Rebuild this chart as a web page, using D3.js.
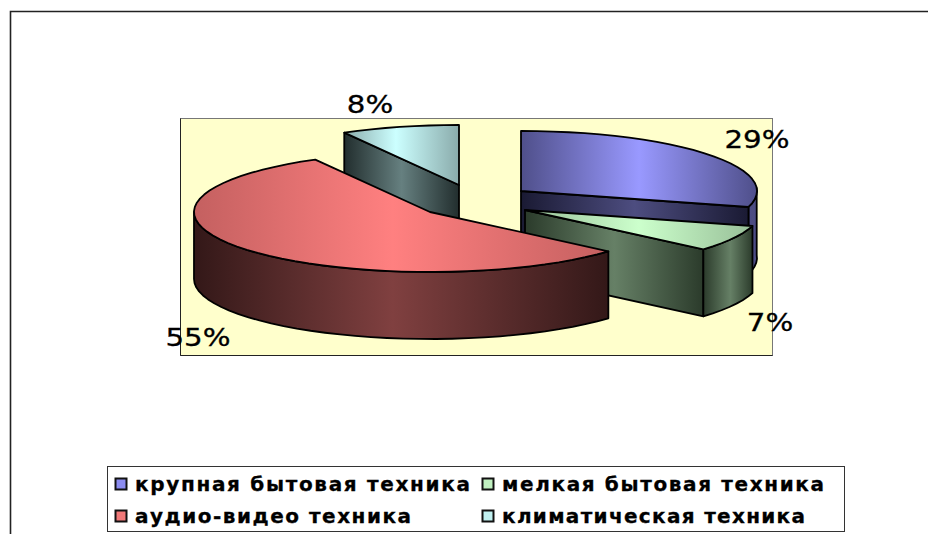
<!DOCTYPE html>
<html>
<head>
<meta charset="utf-8">
<script src="https://cdn.jsdelivr.net/npm/d3@7"></script>
<style>
  html, body { margin: 0; padding: 0; background: #fff; overflow: hidden; }
  svg { display: block; }
  text { font-family: "DejaVu Sans", sans-serif; fill: #000; }
</style>
</head>
<body>
<div id="chart"></div>
<script>
// values, in legend order
const categories = ["крупная бытовая техника", "мелкая бытовая техника", "аудио-видео техника", "климатическая техника"];
const shares = [29, 7, 55, 8];
const shareLabels = ["29%", "7%", "55%", "8%"];

// slice colours: bright top / top edge / mid side / dark side / legend
const topColors = ["#9999ff", "#ccffcc", "#ff8080", "#ccffff"];
const topEdge = ["#4f4f8a", "#98bf98", "#c46060", "#8aabab"];
const wallMid = ["#4d4d80", "#668066", "#804040", "#668080"];
const wallDark = ["#1a1a33", "#2b3b2b", "#331818", "#222e2e"];
const legendColors = ["#8c8cf0", "#c0f0c0", "#f07878", "#c0f0f0"];

const width = 928;
const height = 534;
const rx = 236, ry = 60, depth = 67;

// exploded centre of each slice, where its label sits, legend text widths
const centers = [[521, 191], [525, 210], [430, 212], [459, 185]];
const labelPos = [[757, 148], [770, 331], [198, 346], [370, 113]];
const legendWidths = [335, 322, 276, 303];

const svg = d3.select("#chart").append("svg")
    .attr("width", width)
    .attr("height", height);

const defs = svg.append("defs");

function hGradient(id, x1, x2, edge, mid, midAt) {
    const g = defs.append("linearGradient")
        .attr("id", id)
        .attr("gradientUnits", "userSpaceOnUse")
        .attr("x1", x1).attr("x2", x2)
        .attr("y1", 0).attr("y2", 0);
    g.append("stop").attr("offset", 0).attr("stop-color", edge);
    g.append("stop").attr("offset", midAt).attr("stop-color", mid);
    g.append("stop").attr("offset", 1).attr("stop-color", edge);
    return `url(#${id})`;
}

// outer frame, no right side and cut off at the bottom of the picture
svg.append("path")
    .attr("d", `M10.5 ${height} V11.5 H${width}`)
    .attr("fill", "none")
    .attr("stroke", "#222")
    .attr("stroke-width", 1.6);

// plot area
svg.append("rect")
    .attr("x", 180.5).attr("y", 118.5)
    .attr("width", 592).attr("height", 237)
    .attr("fill", "#ffffcc")
    .attr("stroke", "#777");
svg.append("path")
    .attr("d", "M180.5 118.5 V355.5 H772.5")
    .attr("fill", "none")
    .attr("stroke", "#222");

const pie = d3.pie().sort(null)(shares);

const line = d3.line();

function ellipsePt(i, a, dy) {
    const c = centers[i];
    return [c[0] + rx * Math.sin(a), c[1] - ry * Math.cos(a) + (dy || 0)];
}

// coarse steps on purpose, the original rim is a slightly wobbly polyline
function rimPts(i, a0, a1, dy) {
    const n = Math.max(2, Math.ceil(Math.abs(a1 - a0) / 0.07));
    return d3.range(n + 1).map(k => ellipsePt(i, a0 + (a1 - a0) * k / n, dy));
}

function draw(d, fill) {
    return svg.append("path")
        .attr("d", d)
        .attr("fill", fill)
        .attr("stroke", "#000")
        .attr("stroke-width", 1.8)
        .attr("stroke-linejoin", "round");
}

// flat cut face running from the centre out to the rim at angle a
function cutFace(i, a, id) {
    const c = centers[i];
    const p = ellipsePt(i, a);
    const pts = [c, p, [p[0], p[1] + depth], [c[0], c[1] + depth]];
    const x0 = Math.min(c[0], p[0]), x1 = Math.max(c[0], p[0]);
    const fill = hGradient(id, x0, x1, wallDark[i], wallMid[i], 0.5);
    draw(line(pts) + "Z", fill);
}

// rim wall between two angles
function rimWall(i, a0, a1, id, midAt, edge) {
    const top = rimPts(i, a0, a1);
    const bottom = rimPts(i, a1, a0, depth);
    const xs = top.map(p => p[0]);
    const fill = hGradient(id, d3.min(xs), d3.max(xs), edge || wallDark[i], wallMid[i], midAt);
    draw(line(top.concat(bottom)) + "Z", fill);
}

function topFace(i, d, id, midAt) {
    const c = centers[i];
    const pts = [c].concat(rimPts(i, d.startAngle, d.endAngle));
    const xs = pts.map(p => p[0]);
    const fill = hGradient(id, d3.min(xs), d3.max(xs), topEdge[i], topColors[i], midAt);
    draw(line(pts) + "Z", fill);
}

// back to front: climate, large appliances, small appliances, audio-video
cutFace(3, pie[3].startAngle, "w3");
topFace(3, pie[3], "t3", 0.45);

rimWall(0, Math.PI / 2 - 0.05, pie[0].endAngle, "r0", 0.5, "#4a4a88");
cutFace(0, pie[0].endAngle, "w0");
topFace(0, pie[0], "t0", 0.5);

cutFace(1, pie[1].endAngle, "w1");
rimWall(1, pie[1].startAngle, pie[1].endAngle, "r1", 0.55);
topFace(1, pie[1], "t1", 0.5);

rimWall(2, pie[2].startAngle, Math.PI * 1.5, "r2", 0.48);
topFace(2, pie[2], "t2", 0.48);

// percent labels, the original font runs wider than DejaVu
svg.selectAll("text.pct")
    .data(shareLabels)
    .enter()
    .append("text")
    .attr("class", "pct")
    .attr("transform", (d, i) => `translate(${labelPos[i][0]},${labelPos[i][1]}) scale(1.22,1)`)
    .attr("text-anchor", "middle")
    .style("font-size", "24px")
    .style("stroke", "#000")
    .style("stroke-width", 0.3)
    .text(d => d);

// legend
svg.append("rect")
    .attr("x", 107.5).attr("y", 466.5)
    .attr("width", 737).attr("height", 65)
    .attr("fill", "#fff")
    .attr("stroke", "#333");

const legendX = d3.scaleOrdinal().domain([0, 1]).range([115, 482]);
const legendY = d3.scaleOrdinal().domain([0, 1]).range([484, 516]);

const items = svg.selectAll("g.item")
    .data(categories)
    .enter()
    .append("g")
    .attr("class", "item")
    .attr("transform", (d, i) => `translate(${legendX(i % 2)},${legendY(Math.floor(i / 2))})`);

items.append("rect")
    .attr("x", 0.5).attr("y", -5.5)
    .attr("width", 11).attr("height", 11)
    .attr("fill", (d, i) => legendColors[i])
    .attr("stroke", "#111")
    .attr("stroke-width", 2);

items.append("text")
    .attr("x", 20)
    .attr("y", 7)
    .attr("textLength", (d, i) => legendWidths[i])
    .attr("lengthAdjust", "spacing")
    .style("font-size", "20px")
    .style("font-weight", "bold")
    .style("stroke", "#000")
    .style("stroke-width", 0.3)
    .text(d => d);
</script>
</body>
</html>
